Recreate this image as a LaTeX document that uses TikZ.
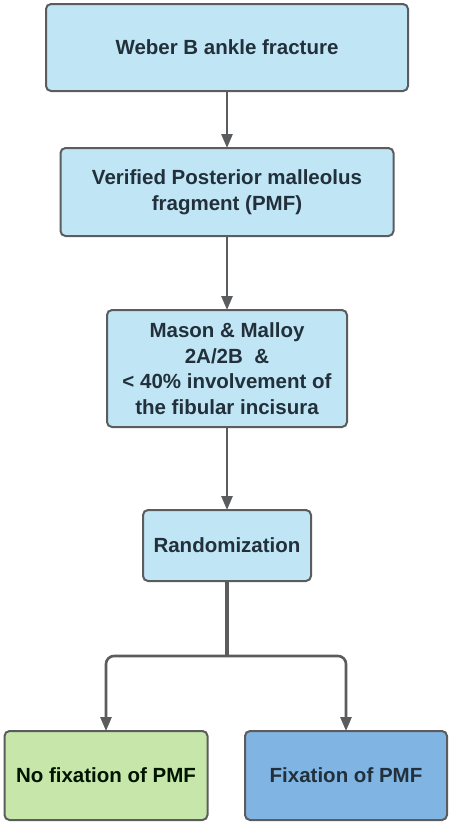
\documentclass[tikz,border=0pt]{standalone}
\usepackage{fontspec}
\setmainfont{Liberation Sans}
\usetikzlibrary{arrows.meta,positioning,calc}

\definecolor{boxblue}{HTML}{C0E5F5}
\definecolor{boxgreen}{HTML}{C6E6AA}
\definecolor{boxdark}{HTML}{80B5E3}
\definecolor{linegray}{HTML}{5A5C5E}
\definecolor{textdark}{HTML}{22303B}

\begin{document}
\begin{tikzpicture}[
  box/.style={rectangle, draw=linegray, line width=2pt, rounded corners=5pt, text centered, align=center,
    font=\fontsize{20.5}{25.5}\selectfont\bfseries, text=textdark, inner sep=2pt, outer sep=0pt},
  stage/.style={box, fill=boxblue},
  armno/.style={box, fill=boxgreen, minimum width=203pt, minimum height=89pt, text=black!80!green!40!black},
  armyes/.style={box, fill=boxdark, minimum width=202pt, minimum height=89pt},
  arrow/.style={-{Triangle[width=11pt,length=14pt]}, line width=2.6pt, draw=linegray, color=linegray}
]

\useasboundingbox (0,0) rectangle (453pt,-823pt);

% Ablauf
\node[stage, minimum width=362pt, minimum height=87pt] (weber) at (227pt,-47.5pt) {Weber B ankle fracture};
\node[stage, minimum width=333pt, minimum height=88pt, below=57pt of weber] (pmf) {Verified Posterior malleolus\\fragment (PMF)};
\node[stage, minimum width=240pt, minimum height=117pt, below=74pt of pmf] (mason) {Mason \& Malloy\\2A/2B\ \ \&\\< 40\% involvement of\\the fibular incisura};
\node[stage, minimum width=168pt, minimum height=71pt, below=83pt of mason] (rand) {Randomization};

% Studienarme
\node[armno, below=150pt of rand, xshift=-121pt] (nofix) {No fixation of PMF};
\node[armyes, below=150pt of rand, xshift=119pt] (fix) {Fixation of PMF};

% Pfeile
\draw[arrow] (weber) -- (pmf);
\draw[arrow] (pmf) -- (mason);
\draw[arrow] (mason) -- (rand);

% Verzweigung
\coordinate (split) at ($(rand.south)+(0,-75pt)$);
\draw[line width=4.5pt, linegray] (rand.south) -- (split);
\draw[arrow, rounded corners=8pt] (split) -| (nofix.north);
\draw[arrow, rounded corners=8pt] (split) -| (fix.north);

\end{tikzpicture}
\end{document}
